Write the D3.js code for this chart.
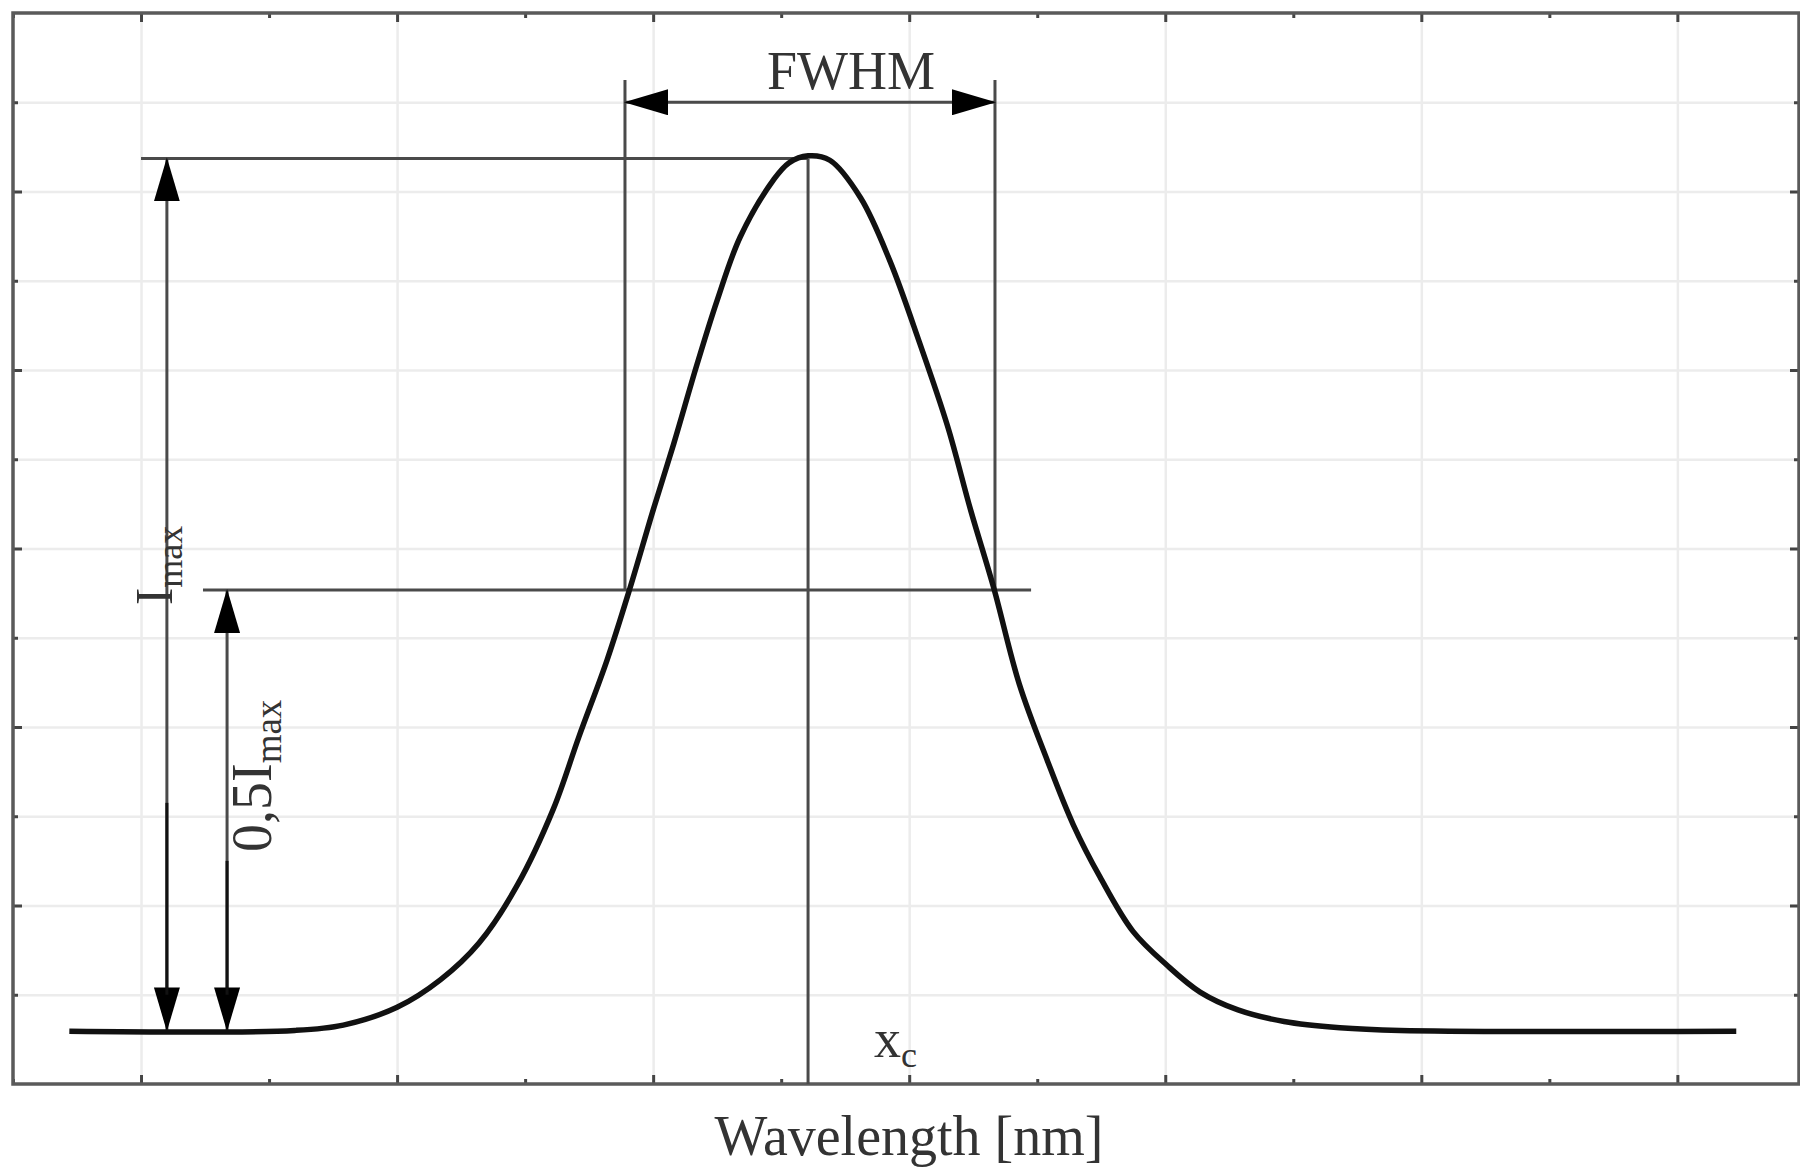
<!DOCTYPE html>
<html>
<head>
<meta charset="utf-8">
<script src="https://cdn.jsdelivr.net/npm/d3@7/dist/d3.min.js"></script>
<style>
  html, body { margin: 0; padding: 0; background: #fff; }
  svg { display: block; }
  text { font-family: "Liberation Serif", "Times New Roman", serif; fill: #333; }
</style>
</head>
<body>
<svg id="chart" width="1800" height="1172"></svg>
<script>
// spectrum (x: arbitrary wavelength units, y: grid units)
const waveX = [-28, 60, 79, 100, 117, 132, 147, 161, 171, 182, 191, 200, 208, 217, 225, 234, 247, 253, 260.5,
  269, 281, 292.5, 304, 315, 324, 333, 343, 354, 364, 374.5, 387.4, 400.7, 413.6, 428.4, 446.4, 468.2, 491.7, 623];
const intensity = [0.59, 0.6, 0.66, 0.86, 1.17, 1.58, 2.23, 3.08, 3.89, 4.75, 5.56, 6.43, 7.17, 8.05, 8.78, 9.49, 10.13, 10.32, 10.4,
  10.35, 9.93, 9.22, 8.31, 7.37, 6.43, 5.56, 4.48, 3.62, 2.91, 2.32, 1.71, 1.33, 1.03, 0.83, 0.7, 0.63, 0.6, 0.59];

// axis ticks (no labels in the original)
const xMajor = [0, 100, 200, 300, 400, 500, 600];
const xMinor = [-50, 50, 150, 250, 350, 450, 550];
const yMajor = [2, 4, 6, 8, 10];
const yMinor = [1, 3, 5, 7, 9, 11];

// annotation levels
const xc = 260.5;
const iMax = 10.37;
const halfMax = 5.535;
const baseLevel = 0.6;
const fwhmEdges = [189, 333.5];
const arrowCols = [10.1, 33.6]; // Imax arrow, 0.5 Imax arrow

const svg = d3.select("#chart");

const x = d3.scaleLinear().domain([-50, 647.5]).range([13, 1799]);
const y = d3.scaleLinear().domain([0, 12]).range([1084, 13]);

// arrow heads
const defs = svg.append("defs");
defs.append("marker")
  .attr("id", "head")
  .attr("markerUnits", "userSpaceOnUse")
  .attr("markerWidth", 44).attr("markerHeight", 26)
  .attr("refX", 43).attr("refY", 13)
  .attr("orient", "auto-start-reverse")
  .append("path")
  .attr("d", "M0,0 L44,13 L0,26 Z")
  .attr("fill", "#000");

// grid
const gridColor = "#ececec";
svg.append("g")
  .attr("transform", `translate(0,${y(0)})`)
  .call(d3.axisBottom(x).tickValues(xMajor).tickSize(-(y(0) - y(12))).tickFormat(""))
  .call(g => g.select(".domain").remove())
  .call(g => g.selectAll("line").attr("stroke", gridColor).attr("stroke-width", 2.5));
svg.append("g")
  .attr("transform", `translate(${x(-50)},0)`)
  .call(d3.axisLeft(y).tickValues(yMajor.concat(yMinor)).tickSize(-(x(647.5) - x(-50))).tickFormat(""))
  .call(g => g.select(".domain").remove())
  .call(g => g.selectAll("line").attr("stroke", gridColor).attr("stroke-width", 2.5));

// inward ticks on all four sides
const tickColor = "#444";
function ticks(axis, transform) {
  svg.append("g").attr("transform", transform).call(axis.tickFormat(""))
    .call(g => g.select(".domain").remove())
    .call(g => g.selectAll("line").attr("stroke", tickColor).attr("stroke-width", 3));
}
ticks(d3.axisBottom(x).tickValues(xMajor).tickSize(-9), `translate(0,${y(0)})`);
ticks(d3.axisBottom(x).tickValues(xMinor).tickSize(-5), `translate(0,${y(0)})`);
ticks(d3.axisTop(x).tickValues(xMajor).tickSize(-9), `translate(0,${y(12)})`);
ticks(d3.axisTop(x).tickValues(xMinor).tickSize(-5), `translate(0,${y(12)})`);
ticks(d3.axisLeft(y).tickValues(yMajor).tickSize(-9), `translate(${x(-50)},0)`);
ticks(d3.axisLeft(y).tickValues(yMinor).tickSize(-5), `translate(${x(-50)},0)`);
ticks(d3.axisRight(y).tickValues(yMajor).tickSize(-9), `translate(${x(647.5)},0)`);
ticks(d3.axisRight(y).tickValues(yMinor).tickSize(-5), `translate(${x(647.5)},0)`);

// frame
svg.append("rect")
  .attr("x", x(-50)).attr("y", y(12))
  .attr("width", x(647.5) - x(-50)).attr("height", y(0) - y(12))
  .attr("fill", "none").attr("stroke", "#5a5a5a").attr("stroke-width", 3.5);

// annotation lines
const annColor = "#4a4a4a";
const ann = svg.append("g").attr("stroke", annColor).attr("stroke-width", 3).attr("fill", "none");
function seg(x1, y1, x2, y2) {
  return ann.append("line")
    .attr("x1", x(x1)).attr("y1", y(y1))
    .attr("x2", x(x2)).attr("y2", y(y2));
}
seg(0, iMax, xc, iMax);                      // Imax level
seg(24.2, halfMax, 347.6, halfMax);          // half max level
seg(xc, iMax, xc, 0);                        // x_c
seg(fwhmEdges[0], 11.25, fwhmEdges[0], halfMax);
seg(fwhmEdges[1], 11.25, fwhmEdges[1], halfMax);
seg(arrowCols[0], iMax, arrowCols[0], baseLevel)
  .attr("marker-start", "url(#head)").attr("marker-end", "url(#head)");
seg(arrowCols[1], halfMax, arrowCols[1], baseLevel)
  .attr("marker-start", "url(#head)").attr("marker-end", "url(#head)");
seg(fwhmEdges[0], 11.0, fwhmEdges[1], 11.0)
  .attr("marker-start", "url(#head)").attr("marker-end", "url(#head)");
// lower parts of the two arrows are drawn darker in the original
seg(arrowCols[0], 3.15, arrowCols[0], baseLevel + 0.4).attr("stroke", "#111");
seg(arrowCols[1], 2.5, arrowCols[1], baseLevel + 0.4).attr("stroke", "#111");

// spectrum
const pts = waveX.map((d, i) => [d, intensity[i]]);
svg.append("path")
  .datum(pts)
  .attr("fill", "none")
  .attr("stroke", "#111")
  .attr("stroke-width", 5.5)
  .attr("stroke-linejoin", "round")
  .attr("d", d3.line().x(d => x(d[0])).y(d => y(d[1])).curve(d3.curveCatmullRom.alpha(0.5)));

// labels
svg.append("text")
  .attr("x", x((fwhmEdges[0] + fwhmEdges[1]) / 2) + 41).attr("y", 89)
  .attr("text-anchor", "middle").attr("font-size", 54)
  .text("FWHM");

const iLab = svg.append("text")
  .attr("transform", `translate(${x(arrowCols[0]) + 5},${y(halfMax) + 15}) rotate(-90)`)
  .attr("font-size", 52);
iLab.append("tspan").text("I");
iLab.append("tspan").attr("font-size", 36).attr("dy", 10).text("max");

const hLab = svg.append("text")
  .attr("transform", `translate(${x(arrowCols[1]) + 44},852) rotate(-90)`)
  .attr("font-size", 56);
hLab.append("tspan").text("0,5I");
hLab.append("tspan").attr("font-size", 37).attr("dy", 10).text("max");

const cLab = svg.append("text")
  .attr("x", x(xc) + 66).attr("y", 1057)
  .attr("font-size", 54);
cLab.append("tspan").text("x");
cLab.append("tspan").attr("font-size", 36).attr("dy", 10).text("c");

svg.append("text")
  .attr("x", 909).attr("y", 1155)
  .attr("text-anchor", "middle").attr("font-size", 56)
  .text("Wavelength [nm]");
</script>
</body>
</html>
